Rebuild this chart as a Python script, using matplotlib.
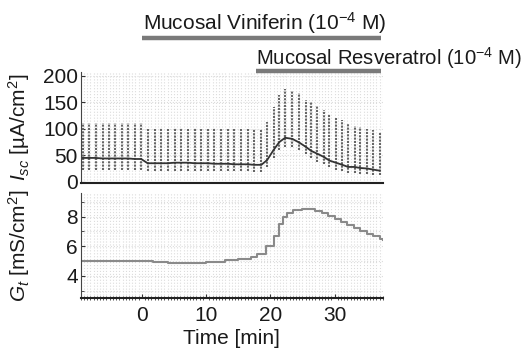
import matplotlib
matplotlib.use("Agg")
import matplotlib.pyplot as plt
import matplotlib.transforms as mtransforms
from matplotlib.ticker import MultipleLocator

plt.rcParams['font.family'] = ['Liberation Sans', 'DejaVu Sans']
plt.rcParams['mathtext.fontset'] = 'custom'
plt.rcParams['mathtext.rm'] = 'Liberation Sans'
plt.rcParams['mathtext.it'] = 'Liberation Sans:italic'

# Isc: one voltage pulse per minute (time, mean, pulse top, pulse bottom)
isc_time = [-9.2, -8.2, -7.2, -6.1, -5.1, -4.1, -3.1, -2.1, -1.1, -0.1,
            0.9, 2.0, 3.0, 4.0, 5.1, 6.1, 7.2, 8.2, 9.2, 10.3, 11.3, 12.3, 13.4, 14.4, 15.4, 16.5,
            17.5, 18.6, 19.5, 20.5, 21.4, 22.3, 23.4, 24.5, 25.5, 26.4, 27.3, 28.3, 29.2, 30.2,
            31.2, 32.1, 33.1, 34.0, 35.1, 36.0, 37.0]
isc_mean = [45, 45, 45, 44, 44, 44, 44, 44, 43, 43,
            35, 35, 35, 35, 36, 36, 36, 35, 35, 35, 34, 34, 34, 33, 33, 33,
            32, 32, 41, 60, 75, 83, 81, 74, 66, 58, 53, 47, 40, 36, 32, 28, 28, 26, 25, 23, 21]
isc_top = [111, 111, 111, 111, 111, 110, 110, 110, 110, 110,
           100, 100, 101, 100, 101, 101, 100, 101, 100, 100, 101, 100, 100, 100, 100, 100,
           100, 100, 113, 141, 164, 175, 172, 168, 155, 150, 142, 136, 128, 120, 117, 111,
           106, 104, 100, 98, 94]
isc_bottom = [23, 23, 23, 23, 23, 23, 23, 23, 23, 23,
              20, 20, 20, 20, 20, 20, 20, 20, 20, 20, 20, 20, 20, 20, 20, 20,
              18, 18, 28, 45, 60, 66, 65, 60, 52, 44, 38, 33, 27, 23, 20, 17, 16, 15, 14, 13, 12]

# Gt trace
gt_time = [-9.5, -5, 0, 1.7, 4, 7, 10, 13, 15, 17, 18, 19.4, 20.5, 21.3, 22.0, 22.6, 23.5,
           25, 26, 27, 28, 29, 30, 31, 32, 33, 34, 35, 36, 37, 37.5]
gt_vals = [5.0, 5.0, 5.0, 4.9, 4.85, 4.88, 4.95, 5.05, 5.15, 5.3, 5.45, 6.0, 6.7, 7.5, 8.0, 8.25, 8.45,
           8.5, 8.5, 8.4, 8.25, 8.05, 7.85, 7.65, 7.45, 7.25, 7.05, 6.85, 6.7, 6.5, 6.45]

fig = plt.figure(figsize=(5.28, 3.53), dpi=100)
ax1 = fig.add_axes([0.153, 0.482, 0.572, 0.314])
ax2 = fig.add_axes([0.153, 0.156, 0.572, 0.297])

for ax in (ax1, ax2):
    ax.set_xlim(-9.5, 37.5)
    ax.spines['top'].set_visible(False)
    ax.spines['right'].set_visible(False)
    ax.spines['left'].set_color('#444444')
    ax.spines['bottom'].set_color('#222222')
    ax.spines['bottom'].set_linewidth(1.5)
    ax.xaxis.set_minor_locator(MultipleLocator(0.5))
    ax.grid(True, which='both', axis='x', color='#dcdcdc', linestyle=':', linewidth=0.8)
    ax.grid(True, which='major', axis='y', color='#dcdcdc', linestyle=':', linewidth=0.8)
    ax.set_axisbelow(True)
    ax.tick_params(labelsize=15, length=3, direction='in', colors='#333333', labelcolor='#1a1a1a', pad=2)
    ax.tick_params(which='minor', length=2, direction='in', colors='#333333')

# top panel
ax1.vlines(isc_time, isc_bottom, isc_top, colors='#666666', linewidth=1.5, linestyles=(0, (1, 0.6)))
ax1.plot(isc_time, isc_mean, color='#333333', linewidth=1.3)
ax1.set_ylim(-2, 207)
ax1.set_yticks([0, 50, 100, 150, 200])
ax1.set_xticks([0, 10, 20, 30])
ax1.tick_params(axis='x', which='both', labelbottom=False, length=0)
ax1.set_ylabel(r'$I_{sc}$ [µA/cm$^2$]', fontsize=15, color='#1a1a1a')

# bottom panel
ax2.plot(gt_time, gt_vals, color='#8a8a8a', linewidth=1.5, drawstyle='steps-post')
ax2.set_ylim(2.5, 9.6)
ax2.set_yticks([4, 6, 8])
ax2.yaxis.set_minor_locator(MultipleLocator(1))
ax2.grid(True, which='minor', axis='y', color='#dcdcdc', linestyle=':', linewidth=0.8)
ax2.set_xticks([0, 10, 20, 30])
ax2.tick_params(axis='x', which='major', pad=6)
ax2.tick_params(axis='x', which='minor', length=3, direction='inout')
ax2.set_ylabel(r'$G_t$ [mS/cm$^2$]', fontsize=15, color='#1a1a1a')
ax2.set_xlabel('Time [min]', fontsize=15, labelpad=3, color='#1a1a1a')
ax1.yaxis.set_label_coords(-0.163, 0.5)
ax2.yaxis.set_label_coords(-0.163, 0.5)

# treatment bars above the plot
trans = mtransforms.blended_transform_factory(ax1.transData, fig.transFigure)
fig.text(0.15, 0.934, 'Mucosal Viniferin (10$^{-4}$ M)', transform=trans,
         fontsize=15, va='center', ha='left', color='#1a1a1a')
ax1.plot([0, 37.2], [0.892, 0.892], transform=trans, color='#7a7a7a', linewidth=3.2,
         clip_on=False, solid_capstyle='butt')
fig.text(17.7, 0.836, 'Mucosal Resveratrol (10$^{-4}$ M)', transform=trans,
         fontsize=14.6, va='center', ha='left', color='#1a1a1a')
ax1.plot([17.7, 37.2], [0.799, 0.799], transform=trans, color='#7a7a7a', linewidth=3.2,
         clip_on=False, solid_capstyle='butt')

fig.savefig('out.png', dpi=100)
